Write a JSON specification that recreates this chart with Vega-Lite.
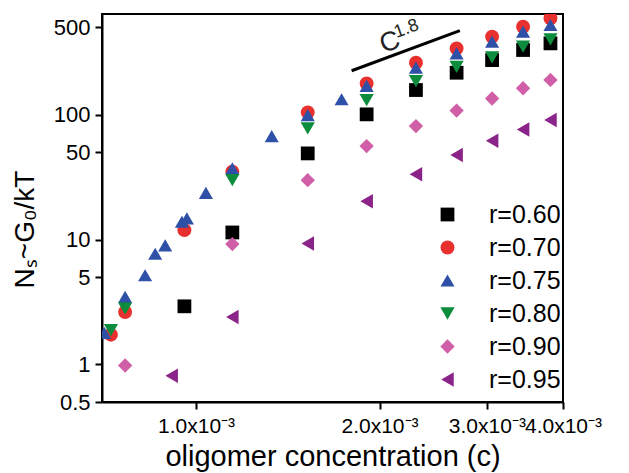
{
  "$schema": "https://vega.github.io/schema/vega-lite/v6.json",
  "width": 461,
  "height": 388,
  "autosize": {"type": "none"},
  "padding": {"left": 102, "top": 14, "right": 66, "bottom": 71},
  "background": "white",
  "config": {
    "font": "Liberation Sans",
    "view": {"stroke": "black", "strokeWidth": 2},
    "axis": {"grid": false, "domainColor": "black", "domainWidth": 2, "tickColor": "black", "tickWidth": 2, "tickSize": 7, "labelColor": "black", "titleColor": "black", "titleFontWeight": "normal"}
  },
  "datasets": {
    "pts": [
      {"series": "r=0.60", "c": 0.000957, "g": 2.92},
      {"series": "r=0.60", "c": 0.001147, "g": 11.4},
      {"series": "r=0.60", "c": 0.001525, "g": 49.0},
      {"series": "r=0.60", "c": 0.001905, "g": 100.7},
      {"series": "r=0.60", "c": 0.002295, "g": 157.7},
      {"series": "r=0.60", "c": 0.002676, "g": 217},
      {"series": "r=0.60", "c": 0.003060, "g": 274},
      {"series": "r=0.60", "c": 0.003440, "g": 330},
      {"series": "r=0.60", "c": 0.003815, "g": 373},
      {"series": "r=0.70", "c": 0.000725, "g": 1.73},
      {"series": "r=0.70", "c": 0.000765, "g": 2.63},
      {"series": "r=0.70", "c": 0.000957, "g": 11.9},
      {"series": "r=0.70", "c": 0.001147, "g": 35},
      {"series": "r=0.70", "c": 0.001525, "g": 104.5},
      {"series": "r=0.70", "c": 0.001905, "g": 178},
      {"series": "r=0.70", "c": 0.002295, "g": 261},
      {"series": "r=0.70", "c": 0.002676, "g": 340},
      {"series": "r=0.70", "c": 0.003060, "g": 422},
      {"series": "r=0.70", "c": 0.003440, "g": 507},
      {"series": "r=0.70", "c": 0.003815, "g": 593},
      {"series": "r=0.75", "c": 0.000707, "g": 1.79},
      {"series": "r=0.75", "c": 0.000765, "g": 3.47},
      {"series": "r=0.75", "c": 0.000825, "g": 5.18},
      {"series": "r=0.75", "c": 0.000857, "g": 7.7},
      {"series": "r=0.75", "c": 0.000890, "g": 9.0},
      {"series": "r=0.75", "c": 0.000948, "g": 13.9},
      {"series": "r=0.75", "c": 0.000966, "g": 14.8},
      {"series": "r=0.75", "c": 0.001038, "g": 23.7},
      {"series": "r=0.75", "c": 0.001147, "g": 37.2},
      {"series": "r=0.75", "c": 0.001331, "g": 67.4},
      {"series": "r=0.75", "c": 0.001525, "g": 99.3},
      {"series": "r=0.75", "c": 0.001733, "g": 133},
      {"series": "r=0.75", "c": 0.001905, "g": 170},
      {"series": "r=0.75", "c": 0.002295, "g": 238},
      {"series": "r=0.75", "c": 0.002676, "g": 310},
      {"series": "r=0.75", "c": 0.003060, "g": 385},
      {"series": "r=0.75", "c": 0.003440, "g": 463},
      {"series": "r=0.75", "c": 0.003815, "g": 523},
      {"series": "r=0.80", "c": 0.000725, "g": 1.88},
      {"series": "r=0.80", "c": 0.000765, "g": 2.80},
      {"series": "r=0.80", "c": 0.001147, "g": 29.9},
      {"series": "r=0.80", "c": 0.001525, "g": 77.7},
      {"series": "r=0.80", "c": 0.001905, "g": 131},
      {"series": "r=0.80", "c": 0.002295, "g": 186},
      {"series": "r=0.80", "c": 0.002676, "g": 242},
      {"series": "r=0.80", "c": 0.003060, "g": 288},
      {"series": "r=0.80", "c": 0.003440, "g": 351},
      {"series": "r=0.80", "c": 0.003815, "g": 402},
      {"series": "r=0.90", "c": 0.000765, "g": 0.98},
      {"series": "r=0.90", "c": 0.001147, "g": 9.2},
      {"series": "r=0.90", "c": 0.001525, "g": 29.9},
      {"series": "r=0.90", "c": 0.001905, "g": 56.1},
      {"series": "r=0.90", "c": 0.002295, "g": 81.1},
      {"series": "r=0.90", "c": 0.002676, "g": 108},
      {"series": "r=0.90", "c": 0.003060, "g": 135},
      {"series": "r=0.90", "c": 0.003440, "g": 163},
      {"series": "r=0.90", "c": 0.003815, "g": 190},
      {"series": "r=0.95", "c": 0.000912, "g": 0.81},
      {"series": "r=0.95", "c": 0.001147, "g": 2.40},
      {"series": "r=0.95", "c": 0.001525, "g": 9.3},
      {"series": "r=0.95", "c": 0.001905, "g": 20.3},
      {"series": "r=0.95", "c": 0.002295, "g": 33.4},
      {"series": "r=0.95", "c": 0.002676, "g": 47.5},
      {"series": "r=0.95", "c": 0.003060, "g": 61.8},
      {"series": "r=0.95", "c": 0.003440, "g": 76.3},
      {"series": "r=0.95", "c": 0.003815, "g": 90.6}
    ],
    "slope": [
      {"c": 0.0018, "g": 225},
      {"c": 0.002709, "g": 471}
    ],
    "bigtext": [
      {"c": 0.002080, "g": 380, "t": "C"}
    ],
    "smalltext": [
      {"c": 0.002215, "g": 487, "t": "1.8"}
    ]
  },
  "layer": [
    {
      "data": {"name": "pts"},
      "mark": {"type": "point", "filled": true, "opacity": 1, "clip": true, "strokeWidth": 0},
      "encoding": {
        "x": {
          "field": "c", "type": "quantitative",
          "scale": {"type": "log", "domain": [0.000701, 0.004], "nice": false},
          "axis": {
            "values": [0.001, 0.002, 0.003, 0.004],
            "labelExpr": "format(datum.value*1000, '.1f') + 'x10⁻³'",
            "labelFontSize": 21, "labelPadding": 6, "labelFlush": false, "labelOverlap": false, "labelBound": false,
            "title": "oligomer concentration (c)", "titleFontSize": 29,
            "titleBaseline": "alphabetic", "titleY": 63
          }
        },
        "y": {
          "field": "g", "type": "quantitative",
          "scale": {"type": "log", "domain": [0.5, 641], "nice": false},
          "axis": {
            "values": [0.5, 1, 5, 10, 50, 100, 500],
            "format": "~g",
            "labelFontSize": 22, "labelPadding": 5, "labelFlush": false, "labelOverlap": false,
            "title": "Nₛ~G₀/kT", "titleFontSize": 28,
            "titleAngle": 270, "titleBaseline": "alphabetic", "titleAlign": "center",
            "titleX": -69, "titleY": 215
          }
        },
        "color": {
          "field": "series", "type": "nominal",
          "scale": {
            "domain": ["r=0.60", "r=0.70", "r=0.75", "r=0.80", "r=0.90", "r=0.95"],
            "range": ["#000000", "#E8312F", "#2E50A6", "#0C8C3C", "#D05FA8", "#8B2488"]
          },
          "legend": {
            "title": null, "orient": "none", "legendX": 333, "legendY": 188,
            "padding": 0, "labelFontSize": 25, "labelColor": "black",
            "labelOffset": 29, "rowPadding": 7, "symbolStrokeWidth": 0, "symbolOpacity": 1
          }
        },
        "shape": {
          "field": "series", "type": "nominal",
          "scale": {
            "domain": ["r=0.60", "r=0.70", "r=0.75", "r=0.80", "r=0.90", "r=0.95"],
            "range": ["square", "circle", "triangle-up", "triangle-down", "diamond", "triangle-left"]
          }
        },
        "size": {
          "field": "series", "type": "nominal",
          "scale": {
            "domain": ["r=0.60", "r=0.70", "r=0.75", "r=0.80", "r=0.90", "r=0.95"],
            "range": [190, 210, 300, 300, 270, 260]
          }
        }
      }
    },
    {
      "data": {"name": "slope"},
      "mark": {"type": "line", "color": "black", "strokeWidth": 3},
      "encoding": {
        "x": {"field": "c", "type": "quantitative"},
        "y": {"field": "g", "type": "quantitative"}
      }
    },
    {
      "data": {"name": "bigtext"},
      "mark": {"type": "text", "angle": 340, "align": "center", "baseline": "middle", "color": "#222222", "fontSize": 27},
      "encoding": {
        "x": {"field": "c", "type": "quantitative"},
        "y": {"field": "g", "type": "quantitative"},
        "text": {"field": "t"}
      }
    },
    {
      "data": {"name": "smalltext"},
      "mark": {"type": "text", "angle": 340, "align": "center", "baseline": "middle", "color": "#222222", "fontSize": 18},
      "encoding": {
        "x": {"field": "c", "type": "quantitative"},
        "y": {"field": "g", "type": "quantitative"},
        "text": {"field": "t"}
      }
    }
  ]
}
